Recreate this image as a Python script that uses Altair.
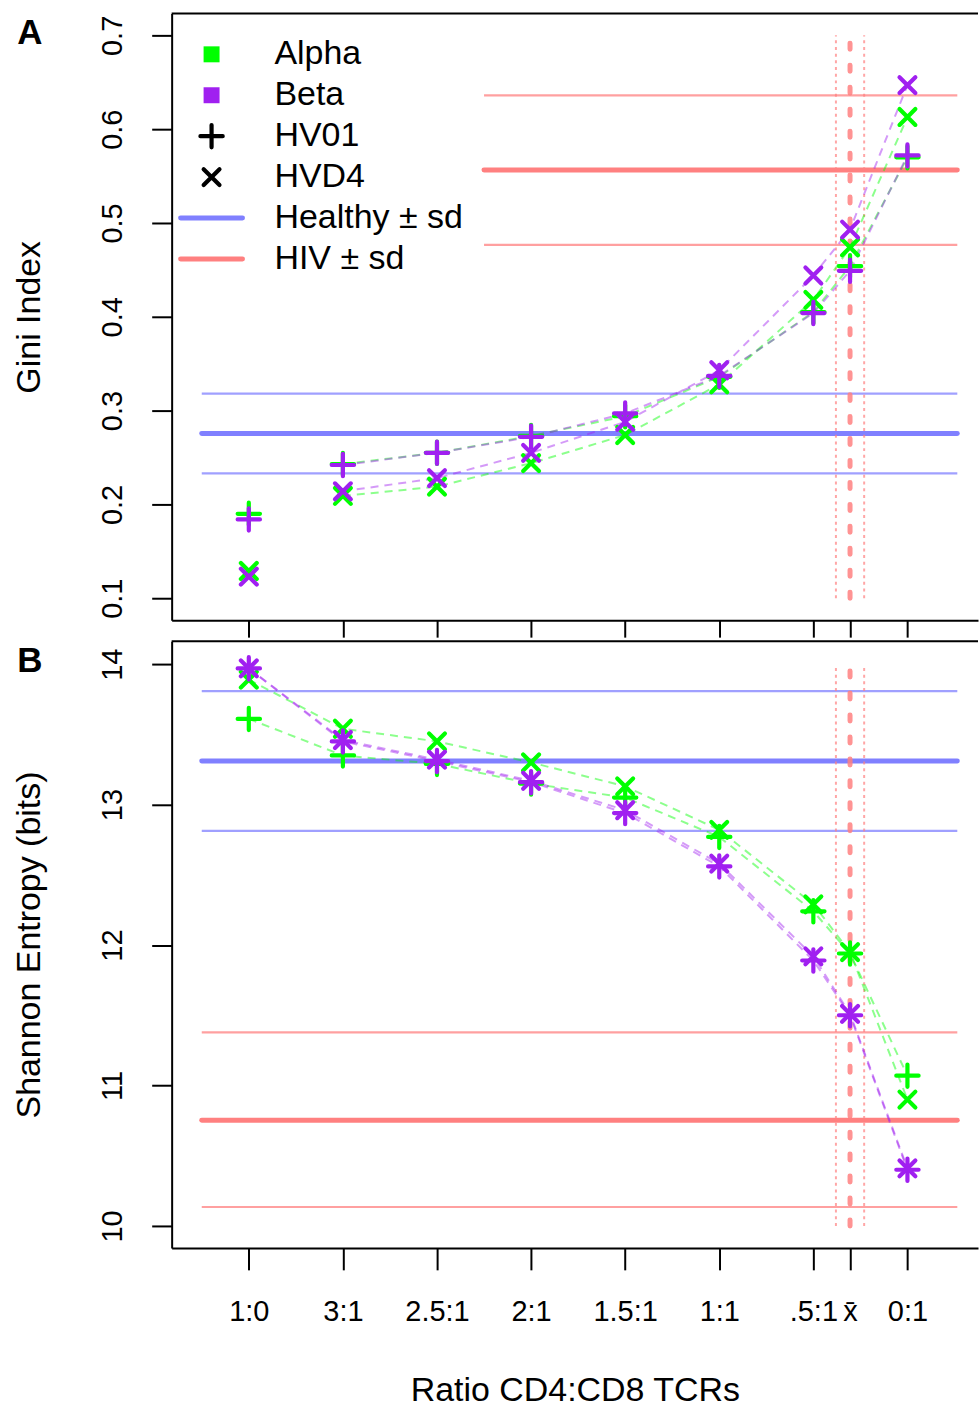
import altair as alt
import pandas as pd

FONT = "Liberation Sans"

# ---------------- data ----------------
categories = ["1:0", "3:1", "2.5:1", "2:1", "1.5:1", "1:1", ".5:1", "x\u0304", "0:1"]
ratio_pos = [0, 1, 2, 3, 4, 5, 6, 6.39, 7]

chains = ["Alpha", "Beta"]
donors = ["HV01", "HVD4"]

gini_alpha_hv01 = [0.190, 0.243, 0.255, 0.273, 0.294, 0.336, 0.405, 0.454, 0.570]
gini_alpha_hvd4 = [0.129, 0.209, 0.219, 0.244, 0.274, 0.328, 0.418, 0.474, 0.613]
gini_beta_hv01 = [0.184, 0.242, 0.255, 0.272, 0.297, 0.337, 0.404, 0.449, 0.572]
gini_beta_hvd4 = [0.123, 0.214, 0.228, 0.255, 0.288, 0.343, 0.444, 0.493, 0.647]

shannon_alpha_hv01 = [13.61, 13.35, 13.29, 13.15, 13.05, 12.77, 12.24, 11.94, 11.07]
shannon_alpha_hvd4 = [13.89, 13.54, 13.45, 13.30, 13.13, 12.82, 12.29, 11.95, 10.90]
shannon_beta_hv01 = [13.97, 13.45, 13.31, 13.16, 12.94, 12.56, 11.89, 11.50, 10.40]
shannon_beta_hvd4 = [13.97, 13.46, 13.32, 13.17, 12.96, 12.58, 11.92, 11.51, 10.41]

# reference bands: mean, mean + sd, mean - sd
healthy_gini = [0.2755, 0.318, 0.233]
hiv_gini = [0.5564, 0.636, 0.4766]
healthy_shannon = [13.311, 13.808, 12.813]
hiv_shannon = [10.753, 11.378, 10.135]
# segment extents of reference lines on the ratio axis
healthy_span = [-0.5, 7.53]
hiv_span_gini = [2.5, 7.53]
hiv_span_shannon = [-0.5, 7.53]
# HIV mean CD4:CD8 ratio position, and +/- sd
xbar_lines = [6.39, 6.24, 6.54]

legend_labels = ["Alpha", "Beta", "HV01", "HVD4", "Healthy \u00b1 sd", "HIV \u00b1 sd"]

# ---------------- styles ----------------
GREEN = "#00FF00"
PURPLE = "#A020F0"
BLUE = "#8080FF"
RED = "#FF8080"
REF_COLORS = {"Healthy": BLUE, "HIV": RED}
PLUS = "M-1,0L1,0M0,-1L0,1"
CROSS = "M-0.71,-0.71L0.71,0.71M0.71,-0.71L-0.71,0.71"

W = 808
H = 608
X_DOMAIN = [-0.82, 7.75]

color_scale = alt.Scale(domain=chains, range=[GREEN, PURPLE])
shape_scale = alt.Scale(domain=donors, range=[PLUS, CROSS])

label_expr = "[" + ",".join("'%s'" % c for c in categories) + "][indexof([" + \
    ",".join(str(p) for p in ratio_pos) + "], datum.value)]"


def long_df(series):
    rows = []
    k = 0
    for (chain, donor), vals in series:
        for i, (xp, v) in enumerate(zip(ratio_pos, vals)):
            rows.append(dict(chain=chain, donor=donor, series=chain + " " + donor,
                             idx=i, x=xp, y=v, draw=k * 100 + i))
        k += 1
    return pd.DataFrame(rows)


def x_enc(bottom, field="x"):
    if bottom:
        axis = alt.Axis(values=ratio_pos, labelExpr=label_expr, title="Ratio CD4:CD8 TCRs",
                        grid=False, tickSize=22, tickWidth=2, tickColor="black",
                        domainColor="black", domainWidth=2, labelFontSize=29, labelFont=FONT,
                        labelColor="black", labelOverlap=False, labelPadding=28,
                        labelFlush=False, titleFontSize=34, titleFont=FONT,
                        titleFontWeight="normal", titleColor="black", titlePadding=47)
    else:
        axis = alt.Axis(values=ratio_pos, labels=False, title="", grid=False, tickSize=17,
                        tickWidth=2, tickColor="black", domainColor="black", domainWidth=2)
    return alt.X(field + ":Q", scale=alt.Scale(domain=X_DOMAIN, nice=False, zero=False),
                 axis=axis)


def panel(series, ydomain, yticks, ytitle, healthy, hiv, hiv_span, line_start, letter,
          bottom, legend):
    df = long_df(series)
    y_axis = alt.Axis(values=yticks, title=ytitle, grid=False, tickSize=20, tickWidth=2,
                      tickColor="black", domainColor="black", domainWidth=2,
                      labelFontSize=29, labelFont=FONT, labelColor="black", labelAngle=270,
                      labelPadding=24, titleFontSize=34, titleFont=FONT,
                      titleFontWeight="normal", titleColor="black", titlePadding=52)
    yscale = alt.Scale(domain=ydomain, nice=False, zero=False)

    def Y(field):
        return alt.Y(field + ":Q", scale=yscale, axis=y_axis)

    layers = []
    for kind, vals, span in [("Healthy", healthy, healthy_span), ("HIV", hiv, hiv_span)]:
        refs = pd.DataFrame(dict(y=vals, role=["mean", "sd", "sd"],
                                 x1=[span[0]] * 3, x2=[span[1]] * 3))
        sd = alt.Chart(refs).transform_filter("datum.role == 'sd'").mark_rule(
            strokeWidth=2.2, opacity=0.75, color=REF_COLORS[kind]).encode(
            x=x_enc(bottom, "x1"), x2="x2:Q", y=Y("y"))
        mean = alt.Chart(refs).transform_filter("datum.role == 'mean'").mark_rule(
            strokeWidth=5, strokeCap="round", color=REF_COLORS[kind]).encode(
            x=x_enc(bottom, "x1"), x2="x2:Q", y=Y("y"))
        layers += [sd, mean]

    vdf = pd.DataFrame(dict(x=xbar_lines, role=["mean", "sd", "sd"],
                            ylo=[yticks[0]] * 3, yhi=[yticks[-1]] * 3))
    v_sd = alt.Chart(vdf).transform_filter("datum.role == 'sd'").mark_rule(
        color=RED, strokeWidth=2, strokeDash=[3, 3.7], opacity=0.7).encode(
        x=x_enc(bottom), y=Y("ylo"), y2="yhi:Q")
    v_mean = alt.Chart(vdf).transform_filter("datum.role == 'mean'").mark_rule(
        color=RED, strokeWidth=5, strokeDash=[6, 16], strokeCap="round",
        opacity=0.85).encode(
        x=x_enc(bottom), y=Y("ylo"), y2="yhi:Q")

    lines = alt.Chart(df).transform_filter("datum.idx >= %d" % line_start).mark_line(
        strokeWidth=2, strokeDash=[8, 6], opacity=0.45).encode(
        x=x_enc(bottom), y=Y("y"),
        color=alt.Color("chain:N", scale=color_scale, legend=None),
        detail="series:N", order="x:Q")

    points = alt.Chart(df).mark_point(filled=False, size=500, strokeWidth=4.2,
                                      strokeCap="round", opacity=1).encode(
        x=x_enc(bottom), y=Y("y"),
        color=alt.Color("chain:N", scale=color_scale, legend=None),
        shape=alt.Shape("donor:N", scale=shape_scale, legend=None),
        order=alt.Order("draw:Q"))

    top = alt.Chart(pd.DataFrame({"a": [0]})).mark_rule(color="black", strokeWidth=2).encode(
        x=alt.value(0), x2=alt.value(W), y=alt.value(0))

    let = alt.Chart(pd.DataFrame({"t": [letter]})).mark_text(
        font=FONT, fontSize=35, fontWeight="bold", align="center", baseline="middle",
        color="black").encode(x=alt.value(-142), y=alt.value(20), text="t:N")

    layers += [v_sd, v_mean, lines, points, top, let]

    if legend:
        ldf = pd.DataFrame(dict(label=legend_labels, row=list(range(len(legend_labels)))))
        ldf["py"] = 41 + 41 * ldf["row"]
        ldf["kind"] = ["chain", "chain", "donor", "donor", "Healthy", "HIV"]
        ldf["chain"] = ["Alpha", "Beta", "", "", "", ""]
        ldf["donor"] = ["", "", "HV01", "HVD4", "", ""]
        base = alt.Chart(ldf)
        sq = base.transform_filter("datum.kind == 'chain'").mark_square(
            size=256, opacity=1).encode(
            x=alt.value(40), y=alt.Y("py:Q", scale=None),
            color=alt.Color("chain:N", scale=color_scale, legend=None))
        sym = base.transform_filter("datum.kind == 'donor'").mark_point(
            filled=False, size=500, strokeWidth=4.2, strokeCap="round", color="black",
            opacity=1).encode(
            x=alt.value(40), y=alt.Y("py:Q", scale=None),
            shape=alt.Shape("donor:N", scale=shape_scale, legend=None))
        layers += [sq, sym]
        for kind in ["Healthy", "HIV"]:
            ln = base.transform_filter("datum.kind == '%s'" % kind).mark_rule(
                strokeWidth=5, strokeCap="round", color=REF_COLORS[kind]).encode(
                x=alt.value(9), x2=alt.value(71), y=alt.Y("py:Q", scale=None))
            layers.append(ln)
        txt = base.mark_text(font=FONT, fontSize=34, align="left", baseline="middle",
                             color="black").encode(
            x=alt.value(103), y=alt.Y("py:Q", scale=None), text="label:N")
        layers.append(txt)

    return alt.layer(*layers).properties(width=W, height=H)


gini_series = [(("Alpha", "HV01"), gini_alpha_hv01), (("Alpha", "HVD4"), gini_alpha_hvd4),
               (("Beta", "HV01"), gini_beta_hv01), (("Beta", "HVD4"), gini_beta_hvd4)]
shannon_series = [(("Alpha", "HV01"), shannon_alpha_hv01), (("Alpha", "HVD4"), shannon_alpha_hvd4),
                  (("Beta", "HV01"), shannon_beta_hv01), (("Beta", "HVD4"), shannon_beta_hvd4)]

pa = panel(gini_series, [0.0766, 0.7234], [0.1, 0.2, 0.3, 0.4, 0.5, 0.6, 0.7], "Gini Index",
           healthy_gini, hiv_gini, hiv_span_gini, 1, "A", False, True)
pb = panel(shannon_series, [9.8437, 14.164], [10, 11, 12, 13, 14], "Shannon Entropy (bits)",
           healthy_shannon, hiv_shannon, hiv_span_shannon, 0, "B", True, False)

chart = alt.vconcat(pa, pb, spacing=21, bounds="flush").properties(
    padding={"left": 12, "top": 10, "right": 0, "bottom": 0},
    background="white",
).configure_view(stroke="transparent")

chart.save("out.html", embed_options={"renderer": "svg", "actions": False})
